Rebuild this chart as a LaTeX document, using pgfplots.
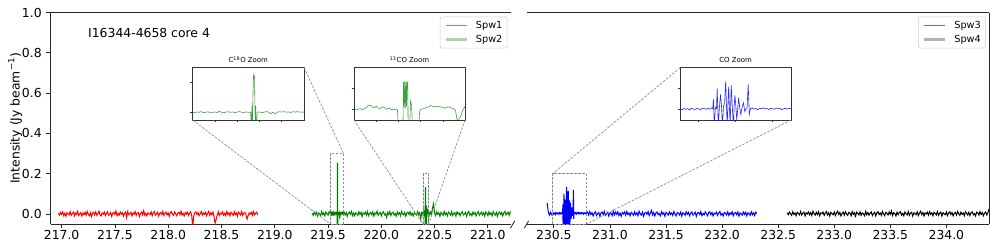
\documentclass[border=0pt]{standalone}
\usepackage{fontspec}
\setmainfont{DejaVu Sans}
\usepackage{pgfplots}
\usepackage{pgfplotstable}
\pgfplotsset{compat=1.18}
\pgfplotsset{/pgf/number format/assume math mode=true}

\pgfplotstableread[row sep=\\]{x y\\
216.97 0.003\\216.98 -0.006\\216.99 0.008\\217.00 -0.002\\217.01 0.010\\217.02 -0.009\\217.03 0.004\\217.04 -0.012\\217.05 0.006\\217.06 0.001\\
217.07 -0.005\\217.08 0.011\\217.09 -0.007\\217.10 0.002\\217.11 0.009\\217.12 -0.010\\217.13 0.005\\217.14 -0.003\\217.15 0.013\\217.16 -0.008\\
217.17 0.000\\217.18 0.007\\217.19 -0.011\\217.20 0.004\\217.21 -0.004\\217.22 0.009\\217.23 -0.006\\217.24 0.012\\217.25 -0.002\\217.26 -0.009\\
217.27 0.006\\217.28 -0.013\\217.29 0.003\\217.30 0.008\\217.31 -0.005\\217.32 0.010\\217.33 -0.007\\217.34 0.001\\217.35 0.014\\217.36 -0.004\\
217.37 -0.010\\217.38 0.005\\217.39 -0.001\\217.40 0.009\\217.41 -0.008\\217.42 0.003\\217.43 0.011\\217.44 -0.006\\217.45 -0.002\\217.46 0.007\\
217.47 -0.012\\217.48 0.004\\217.49 0.008\\217.50 -0.003\\217.51 0.015\\217.52 -0.009\\217.53 0.002\\217.54 -0.006\\217.55 0.010\\217.56 -0.001\\
217.57 0.006\\217.58 -0.011\\217.59 0.003\\217.60 0.009\\217.61 -0.019\\217.62 0.012\\217.63 -0.004\\217.64 0.000\\217.65 0.008\\217.66 -0.010\\
217.67 0.005\\217.68 -0.002\\217.69 0.011\\217.70 -0.008\\217.71 0.004\\217.72 0.007\\217.73 -0.013\\217.74 0.002\\217.75 0.009\\217.76 -0.005\\
217.77 0.016\\217.78 -0.007\\217.79 0.003\\217.80 -0.010\\217.81 0.006\\217.82 0.001\\217.83 -0.004\\217.84 0.010\\217.85 -0.009\\217.86 0.005\\
217.87 0.012\\217.88 -0.006\\217.89 0.000\\217.90 0.008\\217.91 -0.011\\217.92 0.003\\217.93 0.007\\217.94 -0.003\\217.95 0.013\\217.96 -0.008\\
217.97 0.002\\217.98 0.009\\217.99 -0.005\\218.00 0.004\\218.01 -0.012\\218.02 0.006\\218.03 0.011\\218.04 -0.002\\218.05 -0.007\\218.06 0.010\\
218.07 0.001\\218.08 -0.009\\218.09 0.005\\218.10 0.008\\218.11 -0.004\\218.12 0.014\\218.13 -0.006\\218.14 0.003\\218.15 -0.010\\218.16 0.007\\
218.17 -0.001\\218.18 0.009\\218.19 -0.008\\218.20 0.004\\218.21 0.011\\218.22 -0.005\\218.23 -0.062\\218.24 -0.011\\218.25 0.006\\218.26 0.010\\
218.27 -0.003\\218.28 0.007\\218.29 -0.009\\218.30 0.000\\218.31 0.012\\218.32 -0.006\\218.33 0.005\\218.34 -0.002\\218.35 0.008\\218.36 -0.010\\
218.37 0.003\\218.38 0.013\\218.39 -0.007\\218.40 0.006\\218.41 -0.004\\218.42 0.009\\218.43 -0.012\\218.44 -0.046\\218.45 -0.028\\218.46 -0.005\\
218.47 0.011\\218.48 -0.008\\218.49 0.004\\218.50 0.000\\218.51 0.010\\218.52 -0.006\\218.53 0.003\\218.54 -0.009\\218.55 0.012\\218.56 -0.003\\
218.57 0.006\\218.58 -0.010\\218.59 0.008\\218.60 0.001\\218.61 -0.007\\218.62 0.011\\218.63 -0.004\\218.64 0.005\\218.65 -0.011\\218.66 0.009\\
218.67 0.002\\218.68 -0.006\\218.69 0.013\\218.70 -0.008\\218.71 0.004\\218.72 0.007\\218.73 -0.003\\218.74 -0.026\\218.75 -0.009\\218.76 0.005\\
218.77 -0.002\\218.78 0.008\\218.79 -0.007\\218.80 0.012\\218.81 -0.005\\218.82 0.003\\218.83 0.009\\218.84 -0.004\\
}\spwone

\pgfplotstableread[row sep=\\]{x y\\
219.35 0.004\\219.36 -0.007\\219.37 0.010\\219.38 -0.003\\219.39 0.008\\219.40 -0.011\\219.41 0.005\\219.42 0.001\\219.43 -0.008\\219.44 0.012\\
219.45 -0.004\\219.46 0.006\\219.47 -0.010\\219.48 0.009\\219.49 0.002\\219.50 -0.006\\219.51 0.011\\
219.5200 0.003\\219.5225 -0.002\\219.5250 0.004\\219.5275 0.001\\219.5300 0.006\\219.5325 -0.001\\219.5350 0.002\\219.5375 0.005\\219.5400 -0.003\\
219.5425 0.001\\219.5450 0.004\\219.5475 0.000\\219.5500 0.007\\219.5525 0.002\\219.5550 -0.002\\219.5575 0.003\\219.5600 0.005\\219.5625 0.001\\
219.5650 0.004\\219.5675 -0.001\\219.5700 0.003\\219.5725 0.006\\219.5750 0.002\\219.5775 0.000\\219.5800 0.004\\219.5825 0.001\\219.5850 0.002\\
219.5860 -0.080\\219.5866 0.040\\219.5871 -0.070\\219.5877 0.110\\219.5885 0.255\\219.5895 0.240\\219.5900 0.030\\219.5904 -0.070\\219.5908 0.045\\
219.5912 -0.080\\219.5920 -0.070\\219.5925 0.002\\
219.5950 0.004\\219.5975 -0.001\\219.6000 0.002\\219.6025 0.006\\219.6050 0.003\\219.6075 -0.008\\219.6100 0.001\\219.6125 -0.009\\219.6150 0.002\\
219.6175 0.005\\219.6200 0.003\\219.6225 0.006\\219.6250 0.002\\219.6275 0.004\\219.6300 0.000\\219.6325 0.005\\219.6350 0.003\\219.6375 0.006\\
219.6400 0.002\\219.6425 0.004\\219.6450 0.001\\
219.65 0.010\\219.66 -0.005\\219.67 0.007\\219.68 -0.012\\219.69 0.003\\219.70 0.009\\219.71 -0.002\\219.72 0.013\\219.73 -0.008\\219.74 0.004\\
219.75 -0.010\\219.76 0.006\\219.77 0.001\\219.78 -0.007\\219.79 0.011\\219.80 -0.003\\219.81 0.008\\219.82 -0.013\\219.83 0.005\\219.84 0.000\\
219.85 0.009\\219.86 -0.006\\219.87 0.012\\219.88 -0.009\\219.89 0.003\\219.90 0.007\\219.91 -0.004\\219.92 0.010\\219.93 -0.011\\219.94 0.005\\
219.95 -0.001\\219.96 0.014\\219.97 -0.007\\219.98 0.002\\219.99 0.008\\220.00 -0.010\\220.01 0.004\\220.02 0.011\\220.03 -0.005\\220.04 0.001\\
220.05 -0.018\\220.06 0.007\\220.07 -0.003\\220.08 0.012\\220.09 -0.008\\220.10 0.005\\220.11 0.009\\220.12 -0.006\\220.13 0.002\\220.14 -0.011\\
220.15 0.010\\220.16 -0.002\\220.17 0.006\\220.18 -0.009\\220.19 0.013\\220.20 0.000\\220.21 -0.005\\220.22 0.008\\220.23 -0.012\\220.24 0.004\\
220.25 0.009\\220.26 -0.003\\220.27 0.011\\220.28 -0.007\\220.29 0.003\\220.30 -0.010\\220.31 0.007\\220.32 0.001\\220.33 -0.006\\220.34 0.012\\
220.35 -0.004\\220.36 0.006\\220.37 -0.025\\220.38 0.008\\
220.390 0.002\\220.391 -0.002\\220.392 0.001\\220.393 0.004\\220.394 0.000\\220.395 0.003\\220.396 0.008\\220.397 0.018\\220.398 0.021\\220.399 0.012\\
220.400 0.009\\220.401 0.016\\220.402 0.007\\220.403 0.004\\220.404 0.013\\220.405 0.009\\220.406 0.001\\220.407 0.005\\220.408 0.003\\220.409 -0.002\\
220.410 0.001\\220.411 0.000\\220.4115 -0.003\\220.412 -0.090\\220.413 -0.090\\220.4142 -0.090\\220.4145 0.132\\220.4148 0.010\\220.4151 0.133\\
220.4154 0.005\\220.4157 0.134\\220.4160 0.015\\220.4163 0.131\\220.4166 0.130\\
220.4168 -0.090\\220.4175 -0.090\\220.418 0.042\\220.4185 0.020\\220.419 -0.090\\220.420 -0.090\\220.421 -0.090\\220.422 -0.090\\220.4225 -0.010\\
220.423 0.000\\220.424 0.003\\220.425 0.006\\220.426 0.010\\220.427 0.012\\220.428 0.019\\220.429 0.015\\220.430 0.012\\220.431 0.016\\220.432 0.014\\
220.433 0.012\\220.434 0.009\\220.435 0.006\\220.436 0.010\\220.437 0.013\\220.438 0.008\\220.439 0.004\\220.440 0.000\\220.4405 -0.018\\220.441 -0.047\\
220.442 -0.045\\220.443 -0.030\\220.444 0.000\\220.445 0.014\\
220.45 -0.006\\220.46 0.009\\220.47 -0.003\\220.48 0.028\\220.49 0.050\\220.50 0.004\\220.51 -0.009\\220.52 0.011\\220.53 -0.002\\220.54 0.006\\
220.55 -0.012\\220.56 0.008\\220.57 0.001\\220.58 -0.007\\220.59 0.013\\220.60 -0.004\\220.61 0.005\\220.62 -0.010\\220.63 0.009\\220.64 0.002\\
220.65 -0.006\\220.66 0.012\\220.67 -0.008\\220.68 0.003\\220.69 0.007\\220.70 -0.011\\220.71 0.010\\220.72 -0.001\\220.73 0.006\\220.74 -0.009\\
220.75 0.004\\220.76 0.011\\220.77 -0.005\\220.78 0.000\\220.79 0.008\\220.80 -0.012\\220.81 0.005\\220.82 0.013\\220.83 -0.006\\220.84 0.002\\
220.85 -0.009\\220.86 0.010\\220.87 -0.003\\220.88 0.007\\220.89 -0.010\\220.90 0.004\\220.91 0.012\\220.92 -0.007\\220.93 0.001\\220.94 0.009\\
220.95 -0.005\\220.96 0.006\\220.97 -0.011\\220.98 0.010\\220.99 0.003\\221.00 -0.008\\221.01 0.011\\221.02 -0.004\\221.03 0.005\\221.04 -0.009\\
221.05 0.012\\221.06 0.000\\221.07 -0.006\\221.08 0.008\\221.09 -0.012\\221.10 0.004\\221.11 0.010\\221.12 -0.003\\221.13 0.007\\221.14 -0.010\\
221.15 0.006\\221.16 0.013\\221.17 -0.005\\221.18 0.002\\221.19 0.009\\221.20 -0.007\\221.21 0.011\\221.22 0.003\\
}\spwtwo

\pgfplotstableread[row sep=\\]{x y\\
230.44 0.055\\230.45 0.010\\230.46 -0.006\\230.47 0.008\\230.48 -0.004\\
230.490 0.003\\230.495 -0.002\\230.500 0.005\\230.505 0.001\\230.510 0.004\\230.515 -0.003\\230.520 0.006\\230.525 0.002\\230.530 0.000\\230.535 0.005\\
230.540 0.003\\230.545 -0.002\\230.550 0.007\\230.555 0.004\\230.560 0.001\\230.565 0.006\\230.570 0.002\\230.575 0.008\\230.578 0.004\\230.580 0.048\\
230.582 -0.080\\230.585 0.010\\230.588 0.005\\230.590 0.099\\230.593 -0.080\\230.596 0.012\\230.599 0.072\\230.602 0.008\\230.604 -0.080\\230.607 0.015\\
230.610 0.030\\230.613 0.134\\230.617 -0.080\\230.619 0.020\\230.621 0.109\\230.625 -0.080\\230.628 0.115\\230.631 0.010\\230.634 -0.080\\230.636 0.020\\
230.638 0.067\\230.641 0.005\\230.643 -0.050\\230.646 0.010\\230.648 0.056\\230.651 0.008\\230.654 -0.024\\230.657 0.006\\230.661 0.032\\230.665 -0.010\\
230.668 0.004\\230.671 0.008\\230.674 0.120\\230.677 -0.024\\230.680 0.004\\230.685 0.007\\230.690 0.002\\230.695 0.005\\230.700 -0.001\\230.705 0.006\\
230.710 0.003\\230.715 0.008\\230.720 0.002\\230.725 0.005\\230.730 0.000\\230.735 0.006\\230.740 0.004\\230.745 0.001\\230.750 0.007\\230.755 0.003\\
230.760 0.005\\230.765 -0.001\\230.770 0.004\\230.775 0.006\\230.780 0.002\\230.785 0.005\\230.790 0.003\\
230.80 0.009\\230.81 -0.006\\230.82 0.012\\230.83 -0.003\\230.84 0.006\\230.85 -0.010\\230.86 0.004\\230.87 0.011\\230.88 -0.008\\230.89 0.002\\
230.90 0.007\\230.91 -0.012\\230.92 0.005\\230.93 0.010\\230.94 -0.004\\230.95 0.013\\230.96 -0.007\\230.97 0.001\\230.98 0.008\\230.99 -0.011\\
231.00 0.006\\231.01 0.003\\231.02 -0.009\\231.03 0.014\\231.04 -0.005\\231.05 0.009\\231.06 -0.002\\231.07 0.011\\231.08 -0.008\\231.09 0.004\\
231.10 -0.012\\231.11 0.007\\231.12 0.000\\231.13 0.010\\231.14 -0.006\\231.15 0.012\\231.16 -0.003\\231.17 0.005\\231.18 -0.010\\231.19 0.008\\
231.20 0.002\\231.21 -0.007\\231.22 0.011\\231.23 -0.004\\231.24 0.006\\231.25 -0.009\\231.26 0.013\\231.27 0.001\\231.28 -0.006\\231.29 0.009\\
231.30 -0.011\\231.31 0.004\\231.32 0.008\\231.33 -0.002\\231.34 0.012\\231.35 -0.008\\231.36 0.003\\231.37 0.018\\231.38 -0.005\\231.39 0.007\\
231.40 -0.010\\231.41 0.005\\231.42 0.010\\231.43 -0.004\\231.44 0.002\\231.45 -0.009\\231.46 0.011\\231.47 -0.001\\231.48 0.006\\231.49 -0.012\\
231.50 0.008\\231.51 0.003\\231.52 -0.006\\231.53 0.010\\231.54 -0.003\\231.55 0.005\\231.56 -0.008\\231.57 0.012\\231.58 0.000\\231.59 -0.010\\
231.60 0.007\\231.61 0.004\\231.62 -0.005\\231.63 0.009\\231.64 -0.011\\231.65 0.006\\231.66 0.002\\231.67 -0.007\\231.68 0.011\\231.69 -0.002\\
231.70 0.008\\231.71 -0.009\\231.72 0.004\\231.73 0.010\\231.74 -0.006\\231.75 0.001\\231.76 0.009\\231.77 -0.012\\231.78 0.005\\231.79 0.007\\
231.80 -0.003\\231.81 0.012\\231.82 -0.008\\231.83 0.003\\231.84 -0.005\\231.85 0.010\\231.86 0.001\\231.87 -0.009\\231.88 0.006\\231.89 0.011\\
231.90 -0.004\\231.91 0.007\\231.92 -0.010\\231.93 0.004\\231.94 0.000\\231.95 0.009\\231.96 -0.007\\231.97 0.005\\231.98 0.012\\231.99 -0.006\\
232.00 0.002\\232.01 -0.010\\232.02 0.008\\232.03 0.003\\232.04 -0.005\\232.05 0.010\\232.06 -0.008\\232.07 0.006\\232.08 -0.002\\232.09 0.011\\
232.10 -0.009\\232.11 0.004\\232.12 0.007\\232.13 -0.004\\232.14 0.010\\232.15 -0.011\\232.16 0.005\\232.17 0.001\\232.18 -0.006\\232.19 0.009\\
232.20 -0.003\\232.21 0.008\\232.22 -0.010\\232.23 0.006\\232.24 0.002\\232.25 -0.007\\232.26 0.011\\232.27 -0.004\\232.28 0.005\\232.29 -0.008\\
232.30 0.009\\232.31 0.002\\
}\spwthree

\pgfplotstableread[row sep=\\]{x y\\
232.58 0.006\\232.59 -0.004\\232.60 0.009\\232.61 0.001\\232.62 -0.007\\232.63 0.011\\232.64 -0.002\\232.65 0.005\\232.66 -0.009\\232.67 0.008\\
232.68 0.003\\232.69 -0.005\\232.70 0.012\\232.71 -0.006\\232.72 0.004\\232.73 0.009\\232.74 -0.010\\232.75 0.006\\232.76 0.000\\232.77 0.010\\
232.78 -0.004\\232.79 0.007\\232.80 -0.008\\232.81 0.013\\232.82 0.002\\232.83 -0.006\\232.84 0.008\\232.85 -0.003\\232.86 0.011\\232.87 -0.009\\
232.88 0.005\\232.89 0.001\\232.90 0.009\\232.91 -0.007\\232.92 0.004\\232.93 0.012\\232.94 -0.005\\232.95 0.006\\232.96 -0.011\\232.97 0.008\\
232.98 0.002\\232.99 -0.004\\233.00 0.010\\233.01 -0.008\\233.02 0.005\\233.03 0.014\\233.04 -0.003\\233.05 0.007\\233.06 -0.010\\233.07 0.003\\
233.08 0.009\\233.09 -0.006\\233.10 0.011\\233.11 0.000\\233.12 -0.007\\233.13 0.008\\233.14 0.004\\233.15 -0.009\\233.16 0.012\\233.17 -0.002\\
233.18 0.006\\233.19 -0.011\\233.20 0.009\\233.21 0.003\\233.22 -0.005\\233.23 0.010\\233.24 -0.007\\233.25 0.005\\233.26 0.001\\233.27 -0.009\\
233.28 0.013\\233.29 -0.004\\233.30 0.007\\233.31 -0.006\\233.32 0.004\\233.33 0.010\\233.34 -0.008\\233.35 0.002\\233.36 0.008\\233.37 -0.010\\
233.38 0.006\\233.39 0.011\\233.40 -0.003\\233.41 0.005\\233.42 -0.007\\233.43 0.012\\233.44 0.000\\233.45 -0.009\\233.46 0.008\\233.47 0.004\\
233.48 -0.005\\233.49 0.010\\233.50 -0.002\\233.51 0.015\\233.52 -0.008\\233.53 0.006\\233.54 0.002\\233.55 -0.010\\233.56 0.009\\233.57 -0.004\\
233.58 0.007\\233.59 0.011\\233.60 -0.006\\233.61 0.003\\233.62 -0.009\\233.63 0.010\\233.64 0.001\\233.65 -0.005\\233.66 0.012\\233.67 -0.007\\
233.68 0.005\\233.69 0.008\\233.70 -0.011\\233.71 0.006\\233.72 0.002\\233.73 -0.004\\233.74 0.010\\233.75 -0.008\\233.76 0.004\\233.77 0.013\\
233.78 -0.003\\233.79 0.007\\233.80 -0.010\\233.81 0.005\\233.82 0.000\\233.83 0.009\\233.84 -0.006\\233.85 0.011\\233.86 -0.002\\233.87 0.006\\
233.88 -0.009\\233.89 0.008\\233.90 0.003\\233.91 -0.005\\233.92 0.012\\233.93 -0.007\\233.94 0.004\\233.95 0.009\\233.96 -0.011\\233.97 0.006\\
233.98 0.001\\233.99 -0.004\\234.00 0.010\\234.01 -0.008\\234.02 0.005\\234.03 0.011\\234.04 -0.003\\234.05 0.007\\234.06 -0.010\\234.07 0.004\\
234.08 0.008\\234.09 -0.006\\234.10 0.012\\234.11 0.001\\234.12 -0.007\\234.13 0.009\\234.14 -0.002\\234.15 0.005\\234.16 -0.009\\234.17 0.011\\
234.18 0.003\\234.19 -0.005\\234.20 0.008\\234.21 -0.008\\234.22 0.006\\234.23 0.010\\234.24 -0.004\\234.25 0.002\\234.26 -0.010\\234.27 0.009\\
234.28 0.005\\234.29 -0.006\\234.30 0.012\\234.31 -0.003\\234.32 0.007\\234.33 -0.009\\234.34 0.004\\234.35 0.010\\234.36 -0.005\\234.37 0.006\\
234.38 0.025\\
}\spwfour

\definecolor{mplgreen}{RGB}{0,128,0}
\definecolor{legred}{RGB}{255,100,100}
\definecolor{leggreen}{RGB}{170,212,170}
\definecolor{legblue}{RGB}{100,100,255}
\definecolor{leggray}{RGB}{178,178,178}

\tikzset{
  rect/.style={black!45, line width=0.5pt, dash pattern=on 2pt off 1pt},
  conn/.style={black!45, line width=0.5pt, dash pattern=on 2pt off 1pt},
  ititle/.style={anchor=south, inner sep=0pt, yshift=3.2pt, font=\fontsize{5.2}{6}\selectfont},
}
\pgfplotsset{
  mainax/.style={scale only axis, height=158.6pt, ymin=-0.05, ymax=1.0,
    axis x line*=bottom, tick align=outside, major tick length=3.2pt,
    every tick/.style={black!85, line width=0.6pt},
    axis line style={black!85, line width=0.6pt, -},
    tick label style={font=\fontsize{9.3}{11}\selectfont},
    x tick label style={yshift=2.2pt, /pgf/number format/fixed, /pgf/number format/fixed zerofill, /pgf/number format/precision=1},
    legend cell align=left,
    legend style={at={(1,1)}, anchor=north east, xshift=-2.4pt, yshift=-3.1pt,
      draw=black!20, rounded corners=1.5pt, fill=white,
      font=\fontsize{7.3}{8.5}\selectfont, inner xsep=3.5pt, inner ysep=3pt,
      row sep=3.5pt, column sep=6pt, nodes={inner sep=0pt}},
  },
  insetax/.style={scale only axis, height=39.4pt, anchor=south west,
    tick align=outside, tick pos=left, major tick length=1.8pt,
    xticklabels={}, yticklabels={},
    every tick/.style={black!80, line width=0.4pt},
    axis line style={black!80, line width=0.5pt},
    axis background/.style={fill=white}},
  img1/.style={legend image code/.code={\draw[draw=legred, line width=1.0pt, sharp corners] (0pt,0pt) -- (15.75pt,0pt);}},
  img2/.style={legend image code/.code={\draw[draw=leggreen, line width=1.6pt, sharp corners] (0pt,0pt) -- (15.75pt,0pt);}},
  img3/.style={legend image code/.code={\draw[draw=legblue, line width=1.0pt, sharp corners] (0pt,0pt) -- (15.75pt,0pt);}},
  img4/.style={legend image code/.code={\draw[draw=leggray, line width=1.6pt, sharp corners] (0pt,0pt) -- (15.75pt,0pt);}},
}

\begin{document}
\begin{tikzpicture}
\useasboundingbox (-38pt,-18.75pt) rectangle (709.7pt,168pt);

\begin{axis}[mainax, name=L, at={(0pt,0pt)}, anchor=south west, width=344.9pt,
  xmin=216.897, xmax=221.213, axis y line*=left,
  xtick={217,217.5,218,218.5,219,219.5,220,220.5,221},
  ytick={0,0.2,0.4,0.6,0.8,1.0},
  y tick label style={/pgf/number format/fixed, /pgf/number format/fixed zerofill, /pgf/number format/precision=1},
  ylabel={Intensity (Jy beam\textsuperscript{−1})},
  ylabel style={font=\fontsize{9.3}{11}\selectfont, yshift=-7pt}]
\addplot[red, line width=0.75pt, img1] table[x=x,y=y] {\spwone};
\addlegendentry{Spw1}
\addplot[mplgreen, line width=0.75pt, img2] table[x=x,y=y] {\spwtwo};
\addlegendentry{Spw2}
\draw[rect] (axis cs:219.52,-0.05) rectangle (axis cs:219.645,0.30);
\draw[rect] (axis cs:220.39,-0.05) rectangle (axis cs:220.445,0.20);
\coordinate (A1) at (axis cs:219.52,-0.05);
\coordinate (A2) at (axis cs:219.645,0.30);
\coordinate (B1) at (axis cs:220.39,-0.05);
\coordinate (B2) at (axis cs:220.445,-0.05);
\node[anchor=west, inner sep=0pt, font=\fontsize{9.3}{11}\selectfont] at (rel axis cs:0.081,0.902) {I16344-4658 core 4};
\end{axis}

\begin{axis}[mainax, name=R, at={(357.2pt,0pt)}, anchor=south west, width=346.5pt,
  xmin=230.26, xmax=234.38, axis y line*=right, ytick=\empty,
  xtick={230.5,231,231.5,232,232.5,233,233.5,234}]
\addplot[blue, line width=0.75pt, img3] table[x=x,y=y] {\spwthree};
\addlegendentry{Spw3}
\addplot[black, line width=0.75pt, img4] table[x=x,y=y] {\spwfour};
\addlegendentry{Spw4}
\draw[rect] (axis cs:230.49,-0.05) rectangle (axis cs:230.79,0.20);
\coordinate (C1) at (axis cs:230.49,0.20);
\coordinate (C2) at (axis cs:230.79,-0.05);
\end{axis}

\draw[black!85, line width=0.6pt] (L.north west) -- (L.north east);
\draw[black!85, line width=0.6pt] (R.north west) -- (R.north east);

\begin{axis}[insetax, name=I1, at={(106.4pt,78pt)}, width=83.6pt,
  xmin=219.52, xmax=219.645, ymin=-0.05, ymax=0.30,
  xtick={219.545,219.57,219.595,219.62}, ytick={0,0.2}]
\addplot[mplgreen, opacity=0.75, line width=0.45pt] table[x=x,y=y] {\spwtwo};
\end{axis}
\node[ititle] at (I1.north) {C\textsuperscript{18}O Zoom};

\begin{axis}[insetax, name=I2, at={(227.5pt,78pt)}, width=83.25pt,
  xmin=220.39, xmax=220.445, ymin=-0.05, ymax=0.20,
  xtick={220.401,220.412,220.423,220.434}, ytick={0,0.1}]
\addplot[mplgreen, opacity=0.75, line width=0.45pt] table[x=x,y=y] {\spwtwo};
\end{axis}
\node[ititle] at (I2.north) {\textsuperscript{13}CO Zoom};

\begin{axis}[insetax, name=I3, at={(472.2pt,78pt)}, width=83pt,
  xmin=230.49, xmax=230.79, ymin=-0.05, ymax=0.20,
  xtick={230.54,230.64,230.74}, ytick={0,0.1}]
\addplot[blue, opacity=0.85, line width=0.45pt] table[x=x,y=y] {\spwthree};
\end{axis}
\node[ititle] at (I3.north) {CO Zoom};

\draw[conn] (I1.south west) -- (A1);
\draw[conn] (I1.north east) -- (A2);
\draw[conn] (I2.south west) -- (B1);
\draw[conn] (I2.south east) -- (B2);
\draw[conn] (I3.north west) -- (C1);
\draw[conn] (I3.south east) -- (C2);

\draw[black!85, line width=0.6pt] ([shift={(-0.15pt,-3.15pt)}]L.south east) -- ([shift={(3.15pt,2.35pt)}]L.south east);
\draw[black!85, line width=0.6pt] ([shift={(-2.05pt,-3.15pt)}]R.south west) -- ([shift={(1.25pt,2.35pt)}]R.south west);
\end{tikzpicture}
\end{document}
